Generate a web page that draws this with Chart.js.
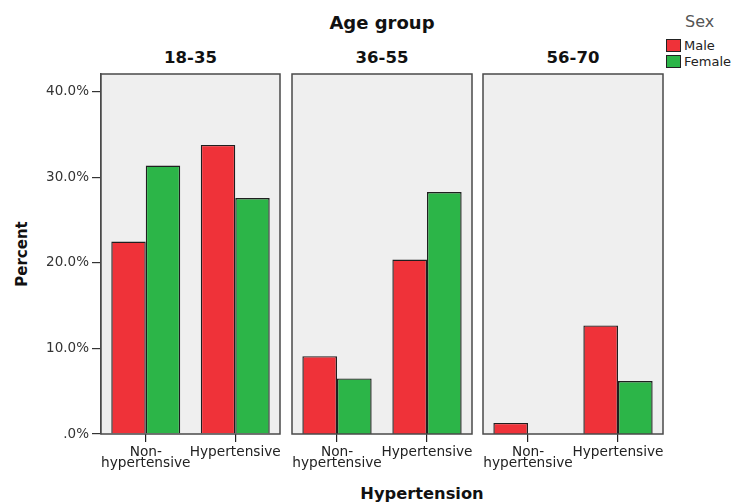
<!DOCTYPE html>
<html>
<head>
<meta charset="utf-8">
<script src="https://cdn.jsdelivr.net/npm/chart.js@4.4.0/dist/chart.umd.min.js"></script>
<style>
body { margin: 0; background: #fff; }
#wrap { position: relative; width: 732px; height: 502px; overflow: hidden; font-family: "DejaVu Sans", sans-serif; color: #111; }
canvas { position: absolute; }
.lbl { position: absolute; white-space: nowrap; line-height: 1; transform: translate(-50%, -50%); }
.bold { font-weight: bold; }
.swatch { position: absolute; width: 13px; height: 11px; border: 1px solid #222; }
.leg { position: absolute; white-space: nowrap; line-height: 1; transform: translateY(-50%); }
</style>
</head>
<body>
<div id="wrap">
    <div class="lbl bold" style="left:382px; top:23px; font-size:18px;">Age group</div>
    <div class="lbl bold" id="t0" style="top:58px; font-size:16.5px;"></div>
    <div class="lbl bold" id="t1" style="top:58px; font-size:16.5px;"></div>
    <div class="lbl bold" id="t2" style="top:58px; font-size:16.5px;"></div>
    <div class="lbl bold" style="left:22px; top:254px; font-size:15px; transform:translate(-50%,-50%) rotate(-90deg);">Percent</div>
    <div class="lbl bold" style="left:422px; top:494px; font-size:16.3px;">Hypertension</div>

    <div class="leg" style="left:685px; top:22px; font-size:16px; color:#555;">Sex</div>
    <div class="swatch" id="swMale" style="left:666px; top:39px;"></div>
    <div class="swatch" id="swFemale" style="left:666px; top:55px;"></div>
    <div class="leg" style="left:684px; top:45px; font-size:13px; color:#222;">Male</div>
    <div class="leg" style="left:684px; top:61px; font-size:13px; color:#222;">Female</div>

    <canvas id="c0" width="282" height="412" style="left:0px; top:72px;"></canvas>
    <canvas id="c1" width="184" height="412" style="left:290px; top:72px;"></canvas>
    <canvas id="c2" width="184" height="412" style="left:481px; top:72px;"></canvas>
</div>
<script>
const ageGroups = ['18-35', '36-55', '56-70'];
const hypCategories = [['Non-', 'hypertensive'], 'Hypertensive'];
const maleValues = [[22.5, 33.8], [9.1, 20.4], [1.3, 12.7]];
const femaleValues = [[31.4, 27.6], [6.5, 28.3], [0, 6.2]];
const yTicks = [0, 10, 20, 30, 40];
const yTickLabels = ['.0%', '10.0%', '20.0%', '30.0%', '40.0%'];
const yMax = 42.1;

const maleColor = '#ef3239';
const femaleColor = '#2cb548';
const titleCenters = [190.5, 382, 573];

document.getElementById('swMale').style.background = maleColor;
document.getElementById('swFemale').style.background = femaleColor;

// grey panel fill + dark frame round each chart area
const panelBox = {
    id: 'panelBox',
    beforeDatasetsDraw(chart) {
        const { ctx, chartArea: a } = chart;
        ctx.save();
        ctx.fillStyle = '#efefef';
        ctx.fillRect(a.left, a.top, a.right - a.left, a.bottom - a.top);
        ctx.restore();
    },
    afterDatasetsDraw(chart) {
        const { ctx, chartArea: a } = chart;
        ctx.save();
        ctx.strokeStyle = '#4a4a4a';
        ctx.lineWidth = 1.5;
        ctx.strokeRect(a.left, a.top, a.right - a.left, a.bottom - a.top);
        ctx.restore();
    }
};

const barBorder = ctx => (ctx.raw === 0 ? 0 : 1.4);

function makePanel(i) {
    document.getElementById('t' + i).textContent = ageGroups[i];
    document.getElementById('t' + i).style.left = titleCenters[i] + 'px';
    const first = i === 0;
    const ctx = document.getElementById('c' + i).getContext('2d');
    return new Chart(ctx, {
        type: 'bar',
        data: {
            labels: hypCategories,
            datasets: [
                {
                    label: 'Male',
                    data: maleValues[i],
                    backgroundColor: maleColor,
                    borderColor: '#1f1f1f',
                    borderWidth: barBorder,
                    categoryPercentage: 0.77,
                    barPercentage: 1
                },
                {
                    label: 'Female',
                    data: femaleValues[i],
                    backgroundColor: femaleColor,
                    borderColor: '#1f1f1f',
                    borderWidth: barBorder,
                    categoryPercentage: 0.77,
                    barPercentage: 1
                }
            ]
        },
        options: {
            responsive: false,
            animation: false,
            devicePixelRatio: 1,
            layout: { padding: { top: 2, bottom: 0, left: first ? 0 : 2, right: 2 } },
            plugins: { legend: { display: false }, tooltip: { enabled: false } },
            scales: {
                x: {
                    grid: { display: true, offset: false, drawOnChartArea: false, tickLength: 8, color: '#222', lineWidth: 1.2 },
                    border: { display: false },
                    ticks: {
                        color: '#222',
                        padding: 5,
                        maxRotation: 0,
                        autoSkip: false,
                        font: { family: 'DejaVu Sans', size: 13.7, lineHeight: '11px' }
                    },
                    afterFit(scale) {
                        scale.height = 50;
                        scale.paddingLeft = 0;
                        scale.paddingRight = 0;
                    }
                },
                y: {
                    display: first,
                    min: 0,
                    max: yMax,
                    afterBuildTicks(scale) {
                        scale.ticks = yTicks.map(v => ({ value: v }));
                    },
                    grid: { display: true, drawOnChartArea: false, tickLength: 9, color: '#333', lineWidth: 1.2 },
                    border: { display: true, color: '#4a4a4a', width: 1.5 },
                    ticks: {
                        color: '#333',
                        padding: 3,
                        font: { family: 'DejaVu Sans', size: 13.5 },
                        callback: (value, index) => yTickLabels[index]
                    },
                    afterFit(scale) {
                        scale.width = first ? 101 : 0;
                        scale.paddingTop = 0;
                        scale.paddingBottom = 0;
                    }
                }
            }
        },
        plugins: [panelBox]
    });
}

ageGroups.forEach((g, i) => makePanel(i));
</script>
</body>
</html>
